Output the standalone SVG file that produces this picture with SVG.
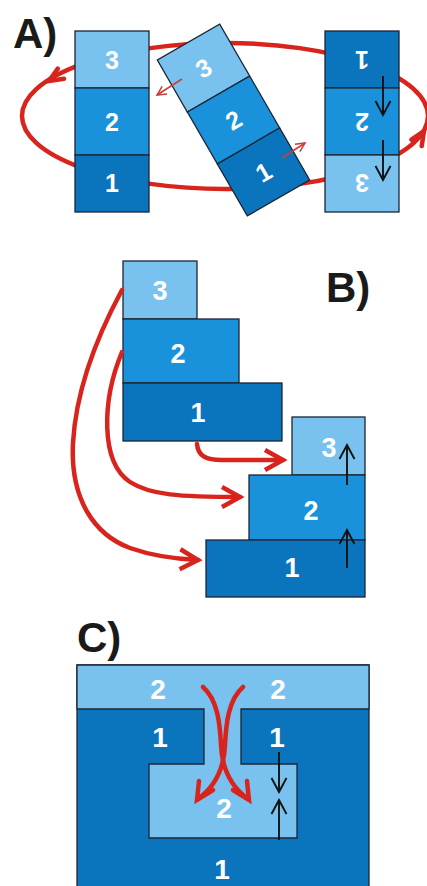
<svg xmlns="http://www.w3.org/2000/svg" width="427" height="886" viewBox="0 0 427 886">
<style>
.l{fill:#79c1ee;stroke:#1c2633;stroke-width:1.3}
.m{fill:#1a92db;stroke:#1c2633;stroke-width:1.3}
.d{fill:#0a74bd;stroke:#1c2633;stroke-width:1.3}
.n{font-family:"Liberation Sans",Arial,sans-serif;font-weight:bold;fill:#fff;text-anchor:middle}
.lab{font-family:"Liberation Sans",Arial,sans-serif;font-weight:bold;fill:#1a1a1a;font-size:42px}
.red{fill:none;stroke:#d8241c;stroke-width:4.5;stroke-linecap:round}
.blk{fill:none;stroke:#111;stroke-width:1.9}
.thin{fill:none;stroke:#c8403a;stroke-width:1.6}
</style>
<defs>
<marker id="bh" markerUnits="userSpaceOnUse" viewBox="0 0 16 18" refX="15" refY="9" markerWidth="16" markerHeight="18" orient="auto" overflow="visible">
<path d="M1,1.5 L15,9 L1,16.5" fill="none" stroke="#111" stroke-width="1.9"/>
</marker>
<marker id="rh" markerUnits="userSpaceOnUse" viewBox="0 0 22 24" refX="19" refY="12" markerWidth="22" markerHeight="24" orient="auto" overflow="visible">
<path d="M1,2 L19,12 L1,22" fill="none" stroke="#d8241c" stroke-width="4.5" stroke-linejoin="miter"/>
</marker>
<marker id="th" markerUnits="userSpaceOnUse" viewBox="0 0 10 10" refX="9" refY="5" markerWidth="10" markerHeight="10" orient="auto" overflow="visible">
<path d="M0,0.5 L9,5 L0,9.5" fill="none" stroke="#c8403a" stroke-width="1.5"/>
</marker>
</defs>

<g id="labels">
<text class="lab" x="13" y="48">A)</text>
<text class="lab" x="326" y="302">B)</text>
<text class="lab" x="77" y="652">C)</text>
</g>

<g id="connectors-A">
<ellipse cx="225" cy="116" rx="203" ry="73" class="red" stroke-width="4.5"/>
<polyline points="57.8,68.6 49,81 64,78.8" class="red" stroke-width="3"/>
<polyline points="411.5,139.7 424,131 421.7,146.1" class="red" stroke-width="3"/>
</g>

<g id="stackA-left">
<rect class="l" x="75" y="31" width="74" height="57"/>
<rect class="m" x="75" y="88" width="74" height="67"/>
<rect class="d" x="75" y="155" width="74" height="57"/>
<text class="n" font-size="25" x="112" y="69">3</text>
<text class="n" font-size="25" x="112" y="131">2</text>
<text class="n" font-size="25" x="112" y="192">1</text>
</g>

<g id="stackA-tilted" transform="rotate(-30 233.5 120)">
<rect class="l" x="197.5" y="30" width="72" height="60"/>
<rect class="m" x="197.5" y="90" width="72" height="60"/>
<rect class="d" x="197.5" y="150" width="72" height="60"/>
<text class="n" font-size="25" x="233.5" y="69">3</text>
<text class="n" font-size="25" x="233.5" y="129">2</text>
<text class="n" font-size="25" x="233.5" y="189">1</text>
</g>

<g id="stackA-right">
<rect class="d" x="325" y="31" width="74" height="57"/>
<rect class="m" x="325" y="88" width="74" height="67"/>
<rect class="l" x="325" y="155" width="74" height="57"/>
<text class="n" font-size="25" x="362" y="69" transform="rotate(180 362 60)">1</text>
<text class="n" font-size="25" x="362" y="131" transform="rotate(180 362 122)">2</text>
<text class="n" font-size="25" x="362" y="192" transform="rotate(180 362 183)">3</text>
</g>

<g id="arrows-A">
<line x1="182" y1="79" x2="157" y2="95" class="thin" marker-end="url(#th)"/>
<line x1="282" y1="158" x2="305" y2="143" class="thin" marker-end="url(#th)"/>
<line x1="383" y1="76" x2="383" y2="115" class="blk" marker-end="url(#bh)"/>
<line x1="383" y1="140" x2="383" y2="180" class="blk" marker-end="url(#bh)"/>
</g>

<g id="stackB-top">
<rect class="l" x="123" y="261" width="74" height="58"/>
<rect class="m" x="123" y="319" width="116" height="64"/>
<rect class="d" x="123" y="383" width="159" height="58"/>
<text class="n" font-size="27" x="160" y="300">3</text>
<text class="n" font-size="27" x="178" y="363">2</text>
<text class="n" font-size="27" x="198" y="422">1</text>
</g>

<g id="stackB-bottom">
<rect class="l" x="292" y="417" width="73" height="58"/>
<rect class="m" x="249" y="475" width="116" height="65"/>
<rect class="d" x="206" y="540" width="159" height="57"/>
<text class="n" font-size="27" x="329" y="457">3</text>
<text class="n" font-size="27" x="311" y="520">2</text>
<text class="n" font-size="27" x="292" y="577">1</text>
</g>

<g id="arrows-B">
<path class="red" d="M197,444 C198,456 206,460 222,460 L283,460" marker-end="url(#rh)"/>
<path class="red" d="M122,352 C102,400 100,462 130,482 C150,495 180,497 240,497" marker-end="url(#rh)"/>
<path class="red" d="M122,290 C95,340 76,390 73,443 C70,500 95,535 130,548 C150,555 175,559 198,560" marker-end="url(#rh)"/>
<line x1="347" y1="485" x2="347" y2="445" class="blk" marker-end="url(#bh)"/>
<line x1="347" y1="568" x2="347" y2="530" class="blk" marker-end="url(#bh)"/>
</g>

<g id="blockC">
<rect class="d" x="77" y="665" width="292" height="230"/>
<path class="l" d="M77,665 L369,665 L369,709 L241,709 L241,764 L297,764 L297,838 L149,838 L149,764 L204,764 L204,709 L77,709 Z"/>
<text class="n" font-size="28" x="158" y="699">2</text>
<text class="n" font-size="28" x="278" y="699">2</text>
<text class="n" font-size="28" x="160" y="747">1</text>
<text class="n" font-size="28" x="277" y="747">1</text>
<text class="n" font-size="28" x="224" y="818">2</text>
<text class="n" font-size="28" x="222" y="879">1</text>
</g>

<g id="arrows-C">
<path class="red" stroke-width="4.5" d="M203,687 C218,700 220,725 221,745 C222,770 233,788 248,799"/>
<polyline class="red" stroke-width="4" points="233,790 249,800 247,781"/>
<path class="red" stroke-width="4.5" d="M243,687 C228,700 226,725 225,745 C224,770 213,788 198,799"/>
<polyline class="red" stroke-width="4" points="213,790 197,800 199,781"/>
<line x1="279" y1="752" x2="279" y2="792" class="blk" marker-end="url(#bh)"/>
<line x1="279" y1="840" x2="279" y2="800" class="blk" marker-end="url(#bh)"/>
</g>
</svg>
